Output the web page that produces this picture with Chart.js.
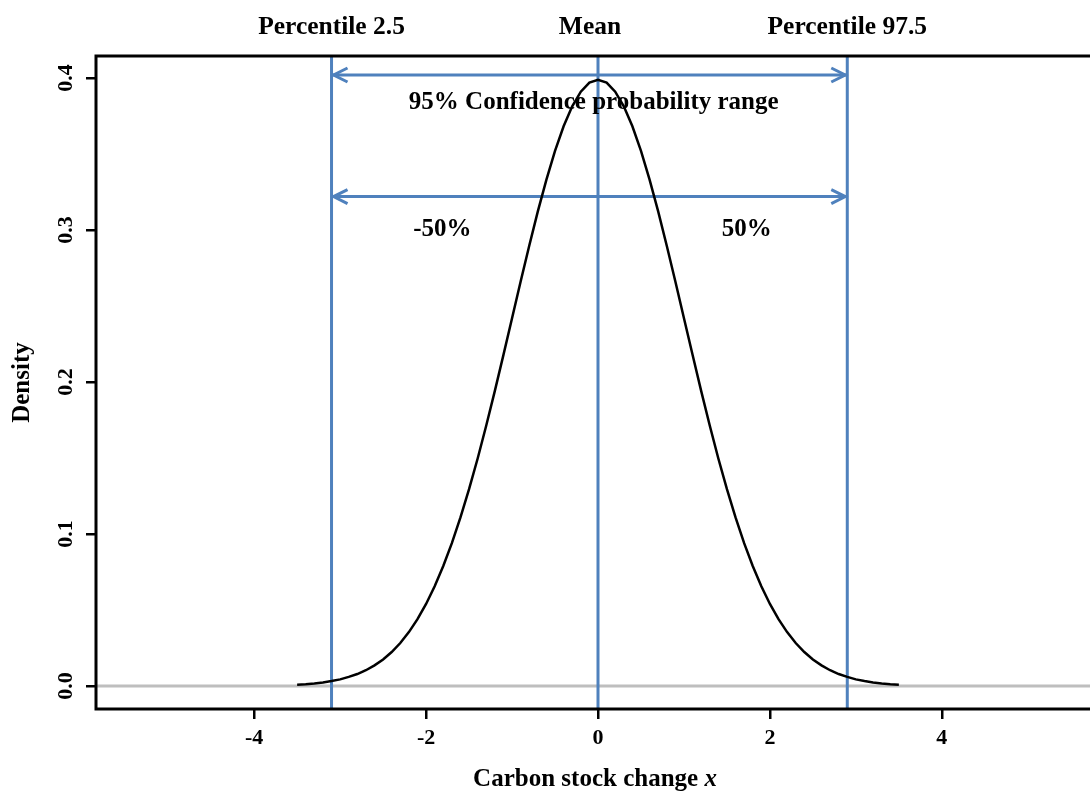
<!DOCTYPE html>
<html>
<head>
<meta charset="utf-8">
<script src="https://cdn.jsdelivr.net/npm/chart.js@4.4.1/dist/chart.umd.min.js"></script>
<style>
  html, body { margin: 0; padding: 0; background: #fff; overflow: hidden; }
  #wrap { width: 1090px; height: 794px; overflow: hidden; }
</style>
</head>
<body>
<div id="wrap"><canvas id="myChart" width="1110" height="794"></canvas></div>
<script>
// density curve
const curveX = [
  -3.5, -3.4, -3.3, -3.2, -3.1, -3.0, -2.9, -2.8, -2.7, -2.6, -2.5, -2.4,
  -2.3, -2.2, -2.1, -2.0, -1.9, -1.8, -1.7, -1.6, -1.5, -1.4, -1.3, -1.2,
  -1.1, -1.0, -0.9, -0.8, -0.7, -0.6, -0.5, -0.4, -0.3, -0.2, -0.1, 0.0,
  0.1, 0.2, 0.3, 0.4, 0.5, 0.6, 0.7, 0.8, 0.9, 1.0, 1.1, 1.2,
  1.3, 1.4, 1.5, 1.6, 1.7, 1.8, 1.9, 2.0, 2.1, 2.2, 2.3, 2.4,
  2.5, 2.6, 2.7, 2.8, 2.9, 3.0, 3.1, 3.2, 3.3, 3.4, 3.5,
];
const curveDensity = [
  0.0009, 0.0012, 0.0017, 0.0024, 0.0033, 0.0044, 0.006, 0.0079, 0.0104, 0.0136, 0.0175, 0.0224,
  0.0283, 0.0355, 0.044, 0.054, 0.0656, 0.079, 0.094, 0.1109, 0.1295, 0.1497, 0.1714, 0.1942,
  0.2179, 0.242, 0.2661, 0.2897, 0.3123, 0.3332, 0.3521, 0.3683, 0.3814, 0.391, 0.397, 0.3989,
  0.397, 0.391, 0.3814, 0.3683, 0.3521, 0.3332, 0.3123, 0.2897, 0.2661, 0.242, 0.2179, 0.1942,
  0.1714, 0.1497, 0.1295, 0.1109, 0.094, 0.079, 0.0656, 0.054, 0.044, 0.0355, 0.0283, 0.0224,
  0.0175, 0.0136, 0.0104, 0.0079, 0.006, 0.0044, 0.0033, 0.0024, 0.0017, 0.0012, 0.0009,
];

// percentile 2.5, mean, percentile 97.5
const markerX = [-3.1, 0, 2.9];
const markerLabels = ["Percentile 2.5", "Mean", "Percentile 97.5"];
// double arrows
const arrowLevels = [0.402, 0.322];

const xTicks = [-4, -2, 0, 2, 4];
const yTicks = [0, 0.1, 0.2, 0.3, 0.4];
const yTickLabels = ["0.0", "0.1", "0.2", "0.3", "0.4"];

const xMin = -5.84;
const xMax = 5.84;
const yMin = -0.0151;
const yMax = 0.4145;

const FONT = "'Liberation Serif', 'Times New Roman', serif";
const BLUE = "#4F81BD";

const ctx = document.getElementById("myChart").getContext("2d");

const datasets = [];

datasets.push({
  label: "density",
  data: curveX.map((x, i) => ({ x: x, y: curveDensity[i] })),
  borderColor: "#000",
  borderWidth: 2.5,
  pointRadius: 0,
  tension: 0,
  order: 0,
});

markerX.forEach((mx) => {
  datasets.push({
    data: [
      { x: mx, y: yMin },
      { x: mx, y: yMax },
    ],
    borderColor: BLUE,
    borderWidth: 3,
    pointRadius: 0,
    order: 1,
  });
});

arrowLevels.forEach((ay) => {
  datasets.push({
    data: [
      { x: markerX[0], y: ay },
      { x: markerX[2], y: ay },
    ],
    borderColor: BLUE,
    borderWidth: 3,
    pointRadius: 0,
    order: 1,
  });
});

datasets.push({
  data: [
    { x: xMin, y: 0 },
    { x: xMax, y: 0 },
  ],
  borderColor: "#BEBEBE",
  borderWidth: 3,
  pointRadius: 0,
  order: 2,
});

const annotations = {
  id: "annotations",
  afterDraw(chart) {
    const c = chart.ctx;
    const xs = chart.scales.x;
    const ys = chart.scales.y;
    const { left, top, right, bottom } = chart.chartArea;

    c.save();
    c.strokeStyle = "#000";
    c.lineWidth = 3;
    c.strokeRect(left, top, right - left, bottom - top);

    // arrow heads
    c.strokeStyle = BLUE;
    c.lineWidth = 3;
    arrowLevels.forEach((ay) => {
      const py = ys.getPixelForValue(ay);
      const xa = xs.getPixelForValue(markerX[0]) + 2;
      const xb = xs.getPixelForValue(markerX[2]) - 2;
      c.beginPath();
      c.moveTo(xa + 14, py - 7);
      c.lineTo(xa, py);
      c.lineTo(xa + 14, py + 7);
      c.moveTo(xb - 14, py - 7);
      c.lineTo(xb, py);
      c.lineTo(xb - 14, py + 7);
      c.stroke();
    });

    c.fillStyle = "#000";
    c.font = "bold 25.5px " + FONT;
    c.textAlign = "center";
    c.textBaseline = "middle";

    // labels above the plot
    const labelOffsets = [0, -8, 0];
    markerX.forEach((mx, i) => {
      c.fillText(markerLabels[i], xs.getPixelForValue(mx) + labelOffsets[i], 27);
    });

    c.font = "bold 25px " + FONT;
    c.fillText("95% Confidence probability range", xs.getPixelForValue(-0.05), ys.getPixelForValue(0.3836));
    c.fillText("-50%", xs.getPixelForValue(-1.81), ys.getPixelForValue(0.3));
    c.fillText("50%", xs.getPixelForValue(1.73), ys.getPixelForValue(0.3));

    // y tick labels, rotated
    c.font = "bold 22px " + FONT;
    ys.ticks.forEach((t, i) => {
      c.save();
      c.translate(66, ys.getPixelForValue(t.value));
      c.rotate(-Math.PI / 2);
      c.fillText(yTickLabels[i], 0, 0);
      c.restore();
    });

    // axis titles
    c.font = "bold 25px " + FONT;
    c.save();
    c.translate(23, (top + bottom) / 2);
    c.rotate(-Math.PI / 2);
    c.fillText("Density", 0, 0);
    c.restore();

    const t1 = "Carbon stock change ";
    const w1 = c.measureText(t1).width;
    c.font = "bold italic 25px " + FONT;
    const w2 = c.measureText("x").width;
    const startX = (left + right) / 2 - 3 - (w1 + w2) / 2;
    c.textAlign = "left";
    c.font = "bold 25px " + FONT;
    c.fillText(t1, startX, 780);
    c.font = "bold italic 25px " + FONT;
    c.fillText("x", startX + w1, 780);

    c.restore();
  },
};

new Chart(ctx, {
  type: "line",
  data: { datasets: datasets },
  options: {
    responsive: false,
    animation: false,
    layout: { padding: { top: 56, right: 10, left: 0, bottom: 0 } },
    plugins: {
      legend: { display: false },
      tooltip: { enabled: false },
    },
    scales: {
      x: {
        type: "linear",
        min: xMin,
        max: xMax,
        afterBuildTicks: (scale) => {
          scale.ticks = xTicks.map((v) => ({ value: v }));
        },
        afterFit: (scale) => {
          scale.height = 85;
        },
        border: { display: false },
        grid: {
          drawOnChartArea: false,
          color: "#000",
          lineWidth: 2.5,
          tickLength: 10,
        },
        ticks: {
          color: "#000",
          padding: 6,
          maxRotation: 0,
          font: { family: FONT, size: 22, weight: "bold" },
          callback: (v) => String(v),
        },
      },
      y: {
        type: "linear",
        min: yMin,
        max: yMax,
        afterBuildTicks: (scale) => {
          scale.ticks = yTicks.map((v) => ({ value: v }));
        },
        afterFit: (scale) => {
          scale.width = 96;
        },
        border: { display: false },
        grid: {
          drawOnChartArea: false,
          color: "#000",
          lineWidth: 2.5,
          tickLength: 10,
        },
        ticks: {
          color: "transparent",
          font: { family: FONT, size: 22, weight: "bold" },
        },
      },
    },
  },
  plugins: [annotations],
});
</script>
</body>
</html>
